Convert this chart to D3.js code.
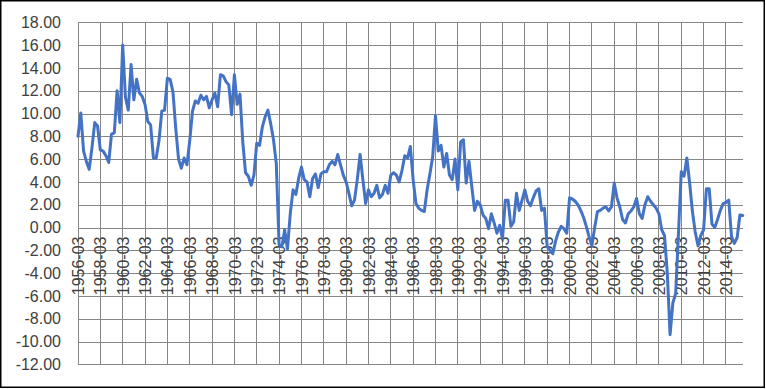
<!DOCTYPE html>
<html>
<head>
<meta charset="utf-8">
<script src="https://cdn.jsdelivr.net/npm/d3@7"></script>
<style>
  html, body { margin: 0; padding: 0; background: #fff; }
  svg { display: block; }
</style>
</head>
<body>
<svg id="chart" width="766" height="389"></svg>
<script>
// Quarterly series 1956-03 .. 2015-09
const startYear = 1956;
const months = ["03", "06", "09", "12"];

const values = [
  8.0, 10.05, 6.7, 5.8, 5.1, 7.0, 9.2, 8.9, 6.8, 6.7, 6.3, 5.7, 8.2, 8.3, 12.0, 9.2,
  16.0, 11.4, 10.3, 14.3, 11.2, 13.0, 11.8, 11.5, 10.8, 9.3, 9.0, 6.1, 6.1, 7.6, 10.2, 10.3,
  13.1, 13.0, 11.9, 8.7, 6.0, 5.2, 6.1, 5.5, 7.6, 10.2, 11.1, 10.9, 11.6, 11.2, 11.5, 10.5,
  11.2, 11.8, 10.6, 13.4, 13.3, 12.8, 12.5, 9.9, 13.4, 10.8, 11.7, 7.5, 4.8, 4.5, 3.7, 4.6,
  7.4, 7.2, 8.8, 9.7, 10.3, 9.1, 7.7, 5.6, -1.5, -1.7, -0.2, -1.9, 1.2, 3.3, 2.9, 4.3,
  5.3, 4.2, 4.0, 2.7, 4.3, 4.7, 3.5, 4.7, 4.9, 4.9, 5.5, 5.8, 5.5, 6.4, 5.5, 4.6,
  4.0, 3.0, 1.9, 2.4, 4.2, 6.4, 4.2, 2.1, 3.3, 2.7, 3.0, 3.7, 2.6, 2.9, 3.7, 3.0,
  4.6, 4.8, 4.6, 4.0, 5.0, 6.3, 6.1, 7.1, 4.2, 2.1, 1.7, 1.5, 1.4, 3.3, 4.7, 6.2,
  9.8, 6.7, 7.2, 5.3, 6.5, 4.6, 4.2, 6.0, 3.3, 7.5, 7.7, 3.9, 5.8, 3.6, 1.5, 2.3,
  2.0, 1.1, 0.8, -0.1, 1.2, 0.4, -0.5, 0.2, -1.0, 2.4, 2.4, 0.1, 0.5, 3.0, 1.5, 2.4,
  3.3, 2.3, 1.9, 2.6, 3.2, 3.4, 1.5, 1.7, -1.7, -2.0, -2.3, -1.2, -0.4, 0.1, -0.1, -0.5,
  2.6, 2.5, 2.3, 2.0, 1.5, 0.9, 0.1, -0.8, -1.6, 0.0, 1.4, 1.5, 1.7, 1.8, 1.45, 1.8,
  3.9, 2.6, 1.8, 0.7, 0.4, 1.2, 1.45, 1.8, 2.55, 1.2, 0.8, 2.0, 2.7, 2.3, 2.0, 1.7,
  1.2, -0.2, -0.7, -4.0, -9.4, -6.6, -5.8, -0.5, 4.9, 4.5, 6.1, 3.9, 1.4, -0.4, -1.6, -0.7,
  -0.2, 3.4, 3.4, 0.3, 0.0, 0.7, 1.5, 2.1, 2.2, 2.4, -0.8, -1.4, -0.9, 1.1, 1.05
];

const categories = values.map((v, i) => (startYear + Math.floor(i / 4)) + "-" + months[i % 4]);

const xTickLabels = [
  "1956-03", "1958-03", "1960-03", "1962-03", "1964-03", "1966-03", "1968-03", "1970-03",
  "1972-03", "1974-03", "1976-03", "1978-03", "1980-03", "1982-03", "1984-03", "1986-03",
  "1988-03", "1990-03", "1992-03", "1994-03", "1996-03", "1998-03", "2000-03", "2002-03",
  "2004-03", "2006-03", "2008-03", "2010-03", "2012-03", "2014-03"
];
const yTicks = [-12, -10, -8, -6, -4, -2, 0, 2, 4, 6, 8, 10, 12, 14, 16, 18];

const svg = d3.select("#chart");
const plotL = 78, plotR = 742.7, plotT = 22.3, plotB = 364.3;

// chart border
svg.append("rect")
  .attr("x", 0.75).attr("y", 0.75)
  .attr("width", 763.5).attr("height", 386.5)
  .attr("fill", "#fff").attr("stroke", "#000").attr("stroke-width", 1.5);

const x = d3.scalePoint().domain(categories).range([plotL, plotR]).padding(0);
const y = d3.scaleLinear().domain([-12, 18]).range([plotB, plotT]);

const gridColor = "#868686";

// horizontal gridlines + y labels
const yAxis = d3.axisLeft(y)
  .tickValues(yTicks)
  .tickFormat(d => d.toFixed(2))
  .tickSizeInner(-(plotR - plotL))
  .tickSizeOuter(0)
  .tickPadding(17);
const gy = svg.append("g").attr("transform", `translate(${plotL},0)`).call(yAxis);
gy.select(".domain").remove();
gy.selectAll(".tick line").attr("stroke", gridColor).attr("stroke-width", 1)
  .attr("shape-rendering", "crispEdges");
gy.selectAll(".tick text")
  .attr("fill", "#404040")
  .attr("font-family", "'Liberation Sans', Arial, sans-serif")
  .attr("font-size", 16);

// vertical gridlines
svg.append("g").selectAll("line")
  .data(xTickLabels)
  .join("line")
  .attr("x1", d => x(d)).attr("x2", d => x(d))
  .attr("y1", plotT).attr("y2", plotB)
  .attr("stroke", gridColor).attr("stroke-width", 1)
  .attr("shape-rendering", "crispEdges");

// x axis labels at y=0
const xAxis = d3.axisBottom(x)
  .tickValues(xTickLabels)
  .tickSize(0)
  .tickPadding(0);
const gx = svg.append("g").attr("transform", `translate(0,${y(0)})`).call(xAxis);
gx.select(".domain").remove();
gx.selectAll(".tick text")
  .attr("fill", "#404040")
  .attr("font-family", "'Liberation Sans', Arial, sans-serif")
  .attr("font-size", 16)
  .attr("transform", "rotate(-90)")
  .attr("text-anchor", "end")
  .attr("x", -9)
  .attr("y", 0)
  .attr("dy", "0.35em");

// series line
const line = d3.line()
  .x((d, i) => x(categories[i]))
  .y(d => y(d));
svg.append("path")
  .datum(values)
  .attr("d", line)
  .attr("fill", "none")
  .attr("stroke", "#4472C4")
  .attr("stroke-width", 3)
  .attr("stroke-linejoin", "round")
  .attr("stroke-linecap", "round");
</script>
</body>
</html>
